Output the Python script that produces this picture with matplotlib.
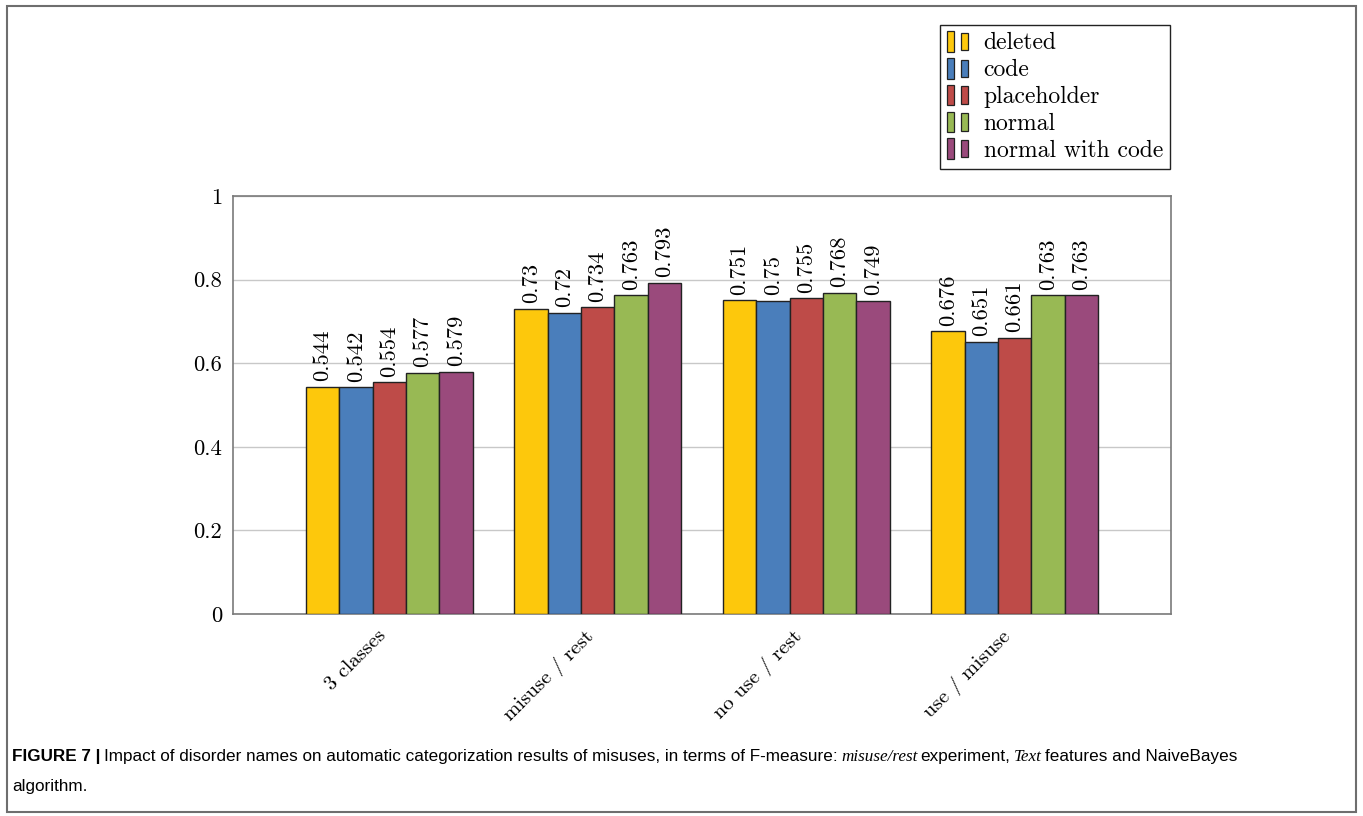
import matplotlib
matplotlib.use('Agg')
import matplotlib.pyplot as plt
import numpy as np
from matplotlib.patches import Rectangle
from matplotlib.legend_handler import HandlerBase
from matplotlib import font_manager

# --- data ---
groups = ['3 classes', 'misuse / rest', 'no use / rest', 'use / misuse']
series = ['deleted', 'code', 'placeholder', 'normal', 'normal with code']
deleted = [0.544, 0.73, 0.751, 0.676]
code = [0.542, 0.72, 0.75, 0.651]
placeholder = [0.554, 0.734, 0.755, 0.661]
normal = [0.577, 0.763, 0.768, 0.763]
normal_with_code = [0.579, 0.793, 0.749, 0.763]
values = [deleted, code, placeholder, normal, normal_with_code]
colors = ['#fdc80c', '#4a7ebb', '#be4b48', '#98b954', '#9a4a7c']
yticks = [0, 0.2, 0.4, 0.6, 0.8, 1.0]
ytick_labels = ['0', '0.2', '0.4', '0.6', '0.8', '1']

plt.rcParams['font.family'] = 'serif'
plt.rcParams['font.serif'] = ['cmr10', 'DejaVu Serif']
plt.rcParams['axes.formatter.use_mathtext'] = True

W, H = 1363, 816
fig = plt.figure(figsize=(W / 100, H / 100), dpi=100)

# outer frame
fig.patches.append(Rectangle((7 / W, 4 / H), (1356 - 7) / W, (810 - 4) / H,
                             transform=fig.transFigure, fill=False,
                             ec='#6e6e6e', lw=1.5))

ax = fig.add_axes([233 / W, (H - 614) / H, (1171 - 233) / W, (614 - 196) / H])

x = np.arange(len(groups))
bw = 0.16
for i, (name, vals) in enumerate(zip(series, values)):
    bars = ax.bar(x + (i - 2) * bw, vals, bw, color=colors[i], edgecolor='#222222',
                  linewidth=1.0, label=name, zorder=3)
    ax.bar_label(bars, labels=[f'{v:g}' for v in vals], rotation=90, padding=4,
                 fontsize=16.3, zorder=4)

ax.set_xlim(-0.75, 3.75)
ax.set_ylim(0, 1)
ax.set_yticks(yticks)
ax.set_yticklabels(ytick_labels, fontsize=16.3)
ax.set_xticks(x)
ax.set_xticklabels(groups, rotation=45, ha='right', fontsize=15)
ax.tick_params(axis='y', length=0, pad=8)
ax.tick_params(axis='x', length=0, pad=9)
ax.grid(axis='y', color='#c8c8c8', lw=1.0, zorder=0)
for s in ax.spines.values():
    s.set_color('#7a7a7a')
    s.set_linewidth(1.2)


class TwoBars(HandlerBase):
    def create_artists(self, legend, orig_handle, xdescent, ydescent, width, height,
                       fontsize, trans):
        fc = orig_handle.get_facecolor()
        w = width * 0.32
        r1 = Rectangle((-xdescent, -ydescent - height * 0.15), w, height * 1.25,
                       fc=fc, ec='#222222', lw=0.9, transform=trans)
        r2 = Rectangle((-xdescent + width * 0.6, -ydescent - height * 0.05), w, height * 1.05,
                       fc=fc, ec='#222222', lw=0.9, transform=trans)
        return [r1, r2]


handles = [Rectangle((0, 0), 1, 1, fc=c) for c in colors]
leg = fig.legend(handles, series, loc='upper right',
                 bbox_to_anchor=(1170 / W, (H - 25) / H),
                 handler_map={Rectangle: TwoBars()}, fontsize=17,
                 handlelength=0.95, handletextpad=0.6, labelspacing=0.2,
                 borderpad=0.3, borderaxespad=0, fancybox=False, framealpha=1)
leg.get_frame().set_edgecolor('#222222')
leg.get_frame().set_linewidth(1.0)

# --- caption ---
sans = 'Liberation Sans'
names = {f.name for f in font_manager.fontManager.ttflist}
if 'Liberation Sans Narrow' in names:
    sans = 'Liberation Sans Narrow'
pieces = [
    ('FIGURE 7 |', dict(family=sans, weight='bold')),
    ('Impact of disorder names on automatic categorization results of misuses, in terms of F-measure:', dict(family=sans)),
    ('misuse/rest', dict(family='Liberation Serif', style='italic')),
    ('experiment,', dict(family=sans)),
    ('Text', dict(family='Liberation Serif', style='italic')),
    ('features and NaiveBayes', dict(family=sans)),
]
renderer = fig.canvas.get_renderer()


def draw_caption(size):
    arts = []
    xpos = 12
    y1 = H - 757
    for k, (txt, kw) in enumerate(pieces):
        t = fig.text(xpos / W, y1 / H, txt, fontsize=size, va='center', ha='left', **kw)
        arts.append(t)
        bb = t.get_window_extent(renderer)
        xpos = bb.x1 + size * 0.28
    t2 = fig.text(12 / W, (H - 786) / H, 'algorithm.', fontsize=size, va='center',
                  ha='left', family=sans)
    arts.append(t2)
    return arts, xpos - size * 0.28


size = 14
arts, end = draw_caption(size)
scale = (1238 - 12) / (end - 12)
for a in arts:
    a.remove()
draw_caption(size * scale)

fig.savefig('out.png', dpi=100)
